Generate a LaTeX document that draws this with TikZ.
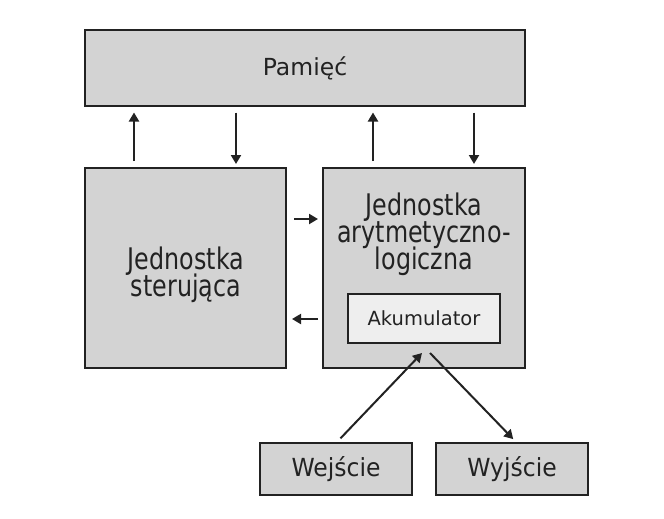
\documentclass[tikz,border=0pt]{standalone}
\usepackage{fontspec}
\setmainfont{DejaVu Sans}
\usetikzlibrary{arrows.meta}
\definecolor{boxfill}{HTML}{D3D3D3}
\definecolor{accfill}{HTML}{EEEEEE}
\definecolor{ink}{HTML}{222222}
\newcommand{\tallline}[1]{\scalebox{1}[1.25]{#1}}
\begin{document}
\begin{tikzpicture}[x=1pt,y=-1pt,
  blk/.style={draw=ink,line width=2pt,fill=boxfill,inner sep=0pt,text=ink,
    font=\fontsize{23.5}{28}\selectfont,align=center},
  bigtxt/.style={text=ink,inner sep=0pt,font=\fontsize{23.8}{27}\selectfont,align=center},
  arr/.style={draw=ink,line width=2pt,-{Triangle[length=9pt,width=10pt]}}]
\useasboundingbox (0,0) rectangle (664,519);
\fill[white] (0,0) rectangle (664,519);
\node[blk,minimum width=440pt,minimum height=75pt] (mem) at (305,68) {Pamięć};
\node[blk,minimum width=201pt,minimum height=200pt] (cu) at (185.5,268) {};
\node[blk,minimum width=202pt,minimum height=200pt] (alu) at (424,268) {};
\node[bigtxt,anchor=base] (cut1) at (186,269) {\tallline{Jednostka}};
\node[bigtxt,anchor=base] (cut2) at (186,296) {\tallline{sterująca}};
\node[bigtxt,anchor=base] (alut1) at (424,215) {\tallline{Jednostka}};
\node[bigtxt,anchor=base] (alut2) at (424,242) {\tallline{arytmetyczno-}};
\node[bigtxt,anchor=base] (alut3) at (424,269) {\tallline{logiczna}};
\node[blk,fill=accfill,minimum width=152pt,minimum height=49pt,font=\fontsize{19.5}{24}\selectfont] (acc) at (424,318.5) {Akumulator};
\node[blk,minimum width=152pt,minimum height=52pt] (wej) at (336,469) {\scalebox{1}[1.06]{Wejście}};
\node[blk,minimum width=152pt,minimum height=52pt] (wyj) at (512,469) {\scalebox{1}[1.06]{Wyjście}};
% memory arrows
\draw[arr,shorten <=6pt,shorten >=6pt] ([xshift=-51.5pt]cu.north) -- ([xshift=-51.5pt]cu.north |- mem.south);
\draw[arr,shorten <=6pt,shorten >=3pt] ([xshift=50.5pt]cu.north |- mem.south) -- ([xshift=50.5pt]cu.north);
\draw[arr,shorten <=6pt,shorten >=6pt] ([xshift=-51pt]alu.north) -- ([xshift=-51pt]alu.north |- mem.south);
\draw[arr,shorten <=6pt,shorten >=3pt] ([xshift=50pt]alu.north |- mem.south) -- ([xshift=50pt]alu.north);
% cu <-> alu
\draw[arr,shorten <=7pt,shorten >=4pt] (cu.east |- 0,219) -- (alu.west |- 0,219);
\draw[arr,shorten <=4pt,shorten >=5pt] (alu.west |- 0,319) -- (cu.east |- 0,319);
% input/output
\coordinate (inend) at (422,353);
\coordinate (outstart) at (430,353);
\draw[arr,shorten <=5pt] ([xshift=1pt]wej.north) -- (inend);
\draw[arr,shorten >=4pt] (outstart) -- ([xshift=4pt]wyj.north);
\end{tikzpicture}
\end{document}
